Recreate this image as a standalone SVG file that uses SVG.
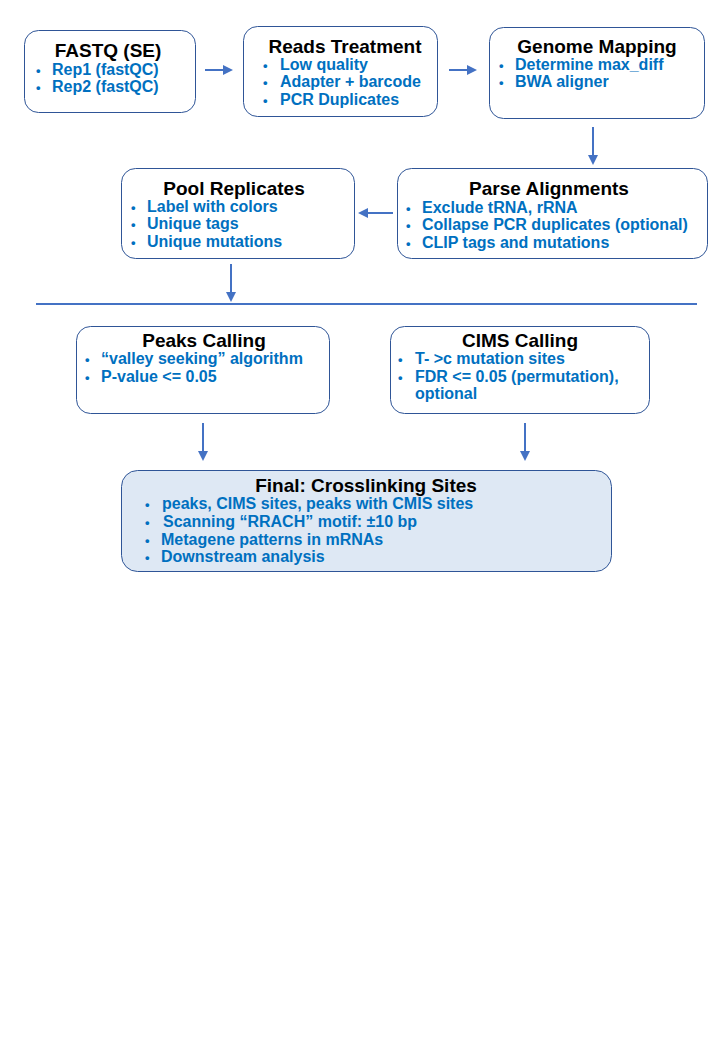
<svg xmlns="http://www.w3.org/2000/svg" width="720" height="1040" viewBox="0 0 720 1040">
<style>
.box{fill:#fff;stroke:#2f5597;stroke-width:1}
.fin{fill:#dee8f4;stroke:#2f5597;stroke-width:1}
.t{font-family:"Liberation Sans",Arial,sans-serif;font-weight:bold;font-size:19px;fill:#000;text-anchor:middle}
.b{font-family:"Liberation Sans",Arial,sans-serif;font-weight:bold;font-size:16px;fill:#0070c0}
.d{font-size:13px}
.c{stroke:#4472c4;stroke-width:2;fill:none}
</style>
<defs>
<marker id="ah" viewBox="0 0 10 10" refX="8" refY="5" markerWidth="5" markerHeight="5" orient="auto" markerUnits="strokeWidth">
<path d="M0,0 L10,5 L0,10 z" fill="#4472c4"/>
</marker>
</defs>
<rect width="720" height="1040" fill="#fff"/>
<g id="connectors">
<line class="c" x1="205" y1="70" x2="231" y2="70" marker-end="url(#ah)"/>
<line class="c" x1="449" y1="70" x2="475" y2="70" marker-end="url(#ah)"/>
<line class="c" x1="593" y1="127" x2="593" y2="163" marker-end="url(#ah)"/>
<line class="c" x1="393" y1="213" x2="360" y2="213" marker-end="url(#ah)"/>
<line class="c" x1="231" y1="264" x2="231" y2="300" marker-end="url(#ah)"/>
<line x1="36" y1="304" x2="697" y2="304" stroke="#4472c4" stroke-width="2"/>
<line class="c" x1="203" y1="423" x2="203" y2="459" marker-end="url(#ah)"/>
<line class="c" x1="525" y1="423" x2="525" y2="459" marker-end="url(#ah)"/>
</g>
<g id="fastq">
<rect class="box" x="24.5" y="30.5" width="171" height="82" rx="14"/>
<text class="t" x="108" y="57">FASTQ (SE)</text>
<text class="b"><tspan class="d" x="36" y="75">•</tspan><tspan x="52" y="75">Rep1 (fastQC)</tspan><tspan class="d" x="36" y="92">•</tspan><tspan x="52" y="92">Rep2 (fastQC)</tspan></text>
</g>
<g id="reads">
<rect class="box" x="243.5" y="26.5" width="194" height="90" rx="14"/>
<text class="t" x="345" y="53">Reads Treatment</text>
<text class="b"><tspan class="d" x="263" y="70">•</tspan><tspan x="280" y="70">Low quality</tspan><tspan class="d" x="263" y="87">•</tspan><tspan x="280" y="87">Adapter + barcode</tspan><tspan class="d" x="263" y="105">•</tspan><tspan x="280" y="105">PCR Duplicates</tspan></text>
</g>
<g id="genome">
<rect class="box" x="489.5" y="27.5" width="215" height="91" rx="14"/>
<text class="t" x="597" y="53">Genome Mapping</text>
<text class="b"><tspan class="d" x="499" y="70">•</tspan><tspan x="515" y="70">Determine max_diff</tspan><tspan class="d" x="499" y="87">•</tspan><tspan x="515" y="87">BWA aligner</tspan></text>
</g>
<g id="parse">
<rect class="box" x="397.5" y="168.5" width="310" height="90" rx="14"/>
<text class="t" x="549" y="195">Parse Alignments</text>
<text class="b"><tspan class="d" x="406" y="213">•</tspan><tspan x="422" y="213">Exclude tRNA, rRNA</tspan><tspan class="d" x="406" y="230">•</tspan><tspan x="422" y="230">Collapse PCR duplicates (optional)</tspan><tspan class="d" x="406" y="248">•</tspan><tspan x="422" y="248">CLIP tags and mutations</tspan></text>
</g>
<g id="pool">
<rect class="box" x="121.5" y="168.5" width="233" height="90" rx="14"/>
<text class="t" x="234" y="195">Pool Replicates</text>
<text class="b"><tspan class="d" x="131" y="212">•</tspan><tspan x="147" y="212">Label with colors</tspan><tspan class="d" x="131" y="229">•</tspan><tspan x="147" y="229">Unique tags</tspan><tspan class="d" x="131" y="247">•</tspan><tspan x="147" y="247">Unique mutations</tspan></text>
</g>
<g id="peaks">
<rect class="box" x="76.5" y="326.5" width="253" height="87" rx="14"/>
<text class="t" x="204" y="347">Peaks Calling</text>
<text class="b"><tspan class="d" x="85" y="364">•</tspan><tspan x="101" y="364">“valley seeking” algorithm</tspan><tspan class="d" x="85" y="382">•</tspan><tspan x="101" y="382">P-value &lt;= 0.05</tspan></text>
</g>
<g id="cims">
<rect class="box" x="390.5" y="326.5" width="259" height="87" rx="14"/>
<text class="t" x="520" y="347">CIMS Calling</text>
<text class="b"><tspan class="d" x="398" y="364">•</tspan><tspan x="415" y="364">T- &gt;c mutation sites</tspan><tspan class="d" x="398" y="382">•</tspan><tspan x="415" y="382">FDR &lt;= 0.05 (permutation),</tspan><tspan x="415" y="399">optional</tspan></text>
</g>
<g id="final">
<rect class="fin" x="121.5" y="470.5" width="490" height="101" rx="16"/>
<text class="t" x="366" y="492">Final: Crosslinking Sites</text>
<text class="b"><tspan class="d" x="145" y="509">•</tspan><tspan x="162" y="509">peaks, CIMS sites, peaks with CMIS sites</tspan><tspan class="d" x="145" y="527">•</tspan><tspan x="163" y="527">Scanning “RRACH” motif: ±10 bp</tspan><tspan class="d" x="145" y="545">•</tspan><tspan x="161" y="545">Metagene patterns in mRNAs</tspan><tspan class="d" x="145" y="562">•</tspan><tspan x="161" y="562">Downstream analysis</tspan></text>
</g>
</svg>
